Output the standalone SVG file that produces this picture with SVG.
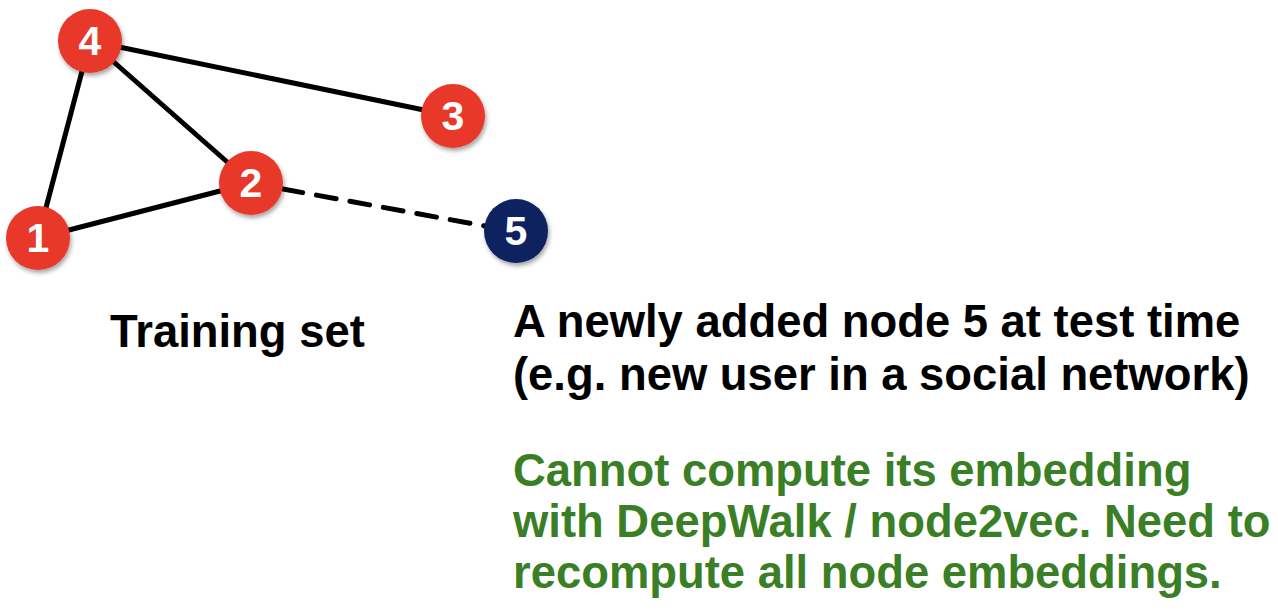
<svg xmlns="http://www.w3.org/2000/svg" width="1278" height="610" viewBox="0 0 1278 610">
<defs>
<filter id="sh" x="-30%" y="-30%" width="160%" height="160%">
<feDropShadow dx="1.5" dy="3" stdDeviation="2" flood-color="#000" flood-opacity="0.35"/>
</filter>
<style>
.edge{stroke:#000;stroke-width:5;fill:none;stroke-linecap:round}
.dash{stroke-dasharray:20 14}
.red{fill:#E8372A}
.navy{fill:#0B205E}
.num{font-family:"Liberation Sans",Arial,sans-serif;font-weight:bold;font-size:41px;fill:#fff;text-anchor:middle}
.lbl{font-family:"Liberation Sans",Arial,sans-serif;font-weight:bold;font-size:45.4px;fill:#000}
.grn{fill:#3A7F26}
</style>
</defs>
<rect width="1278" height="610" fill="#fff"/>
<g id="connectors">
<line class="edge" x1="90" y1="41" x2="453" y2="116"/>
<line class="edge" x1="90" y1="41" x2="38" y2="238"/>
<line class="edge" x1="90" y1="41" x2="251" y2="183"/>
<line class="edge" x1="38" y1="238" x2="251" y2="183"/>
<line class="edge dash" x1="283" y1="189" x2="485" y2="226"/>
</g>
<g id="node4"><circle class="red" cx="90" cy="41" r="32" filter="url(#sh)"/><text class="num" x="90" y="55">4</text></g>
<g id="node3"><circle class="red" cx="453" cy="116" r="32" filter="url(#sh)"/><text class="num" x="453" y="130">3</text></g>
<g id="node2"><circle class="red" cx="251" cy="183" r="32" filter="url(#sh)"/><text class="num" x="251" y="197">2</text></g>
<g id="node1"><circle class="red" cx="38" cy="238" r="32" filter="url(#sh)"/><text class="num" x="38" y="252">1</text></g>
<g id="node5"><circle class="navy" cx="516" cy="231" r="32" filter="url(#sh)"/><text class="num" x="516" y="245">5</text></g>
<g id="labels">
<text class="lbl" x="110" y="347">Training set</text>
<text class="lbl" x="513" y="337">A newly added node 5 at test time</text>
<text class="lbl" x="513" y="390">(e.g. new user in a social network)</text>
<text class="lbl grn" x="513" y="486">Cannot compute its embedding</text>
<text class="lbl grn" x="513" y="537">with DeepWalk / node2vec. Need to</text>
<text class="lbl grn" x="513" y="588">recompute all node embeddings.</text>
</g>
</svg>
